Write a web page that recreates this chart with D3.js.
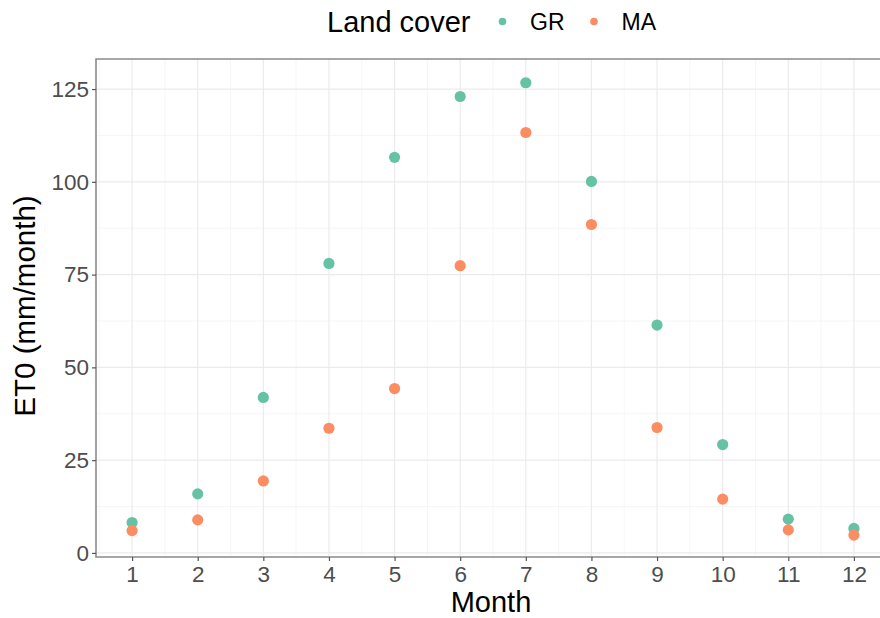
<!DOCTYPE html>
<html>
<head>
<meta charset="utf-8">
<script src="https://cdn.jsdelivr.net/npm/d3@7"></script>
<style>
  html, body { margin: 0; padding: 0; background: #fff; overflow: hidden; }
  svg { display: block; font-family: "Liberation Sans", Arial, sans-serif; }
</style>
</head>
<body>
<svg id="chart" width="880" height="618"></svg>
<script>
// ---- data ----
const months = [1, 2, 3, 4, 5, 6, 7, 8, 9, 10, 11, 12];
const grValues = [8.2, 15.9, 41.9, 78.0, 106.6, 123.0, 126.7, 100.1, 61.4, 29.2, 9.1, 6.6];
const maValues = [6.0, 8.9, 19.4, 33.6, 44.3, 77.4, 113.3, 88.5, 33.8, 14.5, 6.2, 4.8];
const seriesNames = ["GR", "MA"];
const seriesColors = ["#66C2A5", "#FC8D62"];
const xTicks = [1, 2, 3, 4, 5, 6, 7, 8, 9, 10, 11, 12];
const yTicks = [0, 25, 50, 75, 100, 125];
const xMinor = [0.5, 1.5, 2.5, 3.5, 4.5, 5.5, 6.5, 7.5, 8.5, 9.5, 10.5, 11.5, 12.5];
const yMinor = [12.5, 37.5, 62.5, 87.5, 112.5];
const legendTitle = "Land cover";
const xTitle = "Month";
const yTitle = "ET0 (mm/month)";

// ---- layout ----
const svg = d3.select("#chart");
const panel = { left: 96, right: 890, top: 59, bottom: 557 };

const x = d3.scaleLinear().domain([0.45, 12.55]).range([panel.left, panel.right]);
const y = d3.scaleLinear().domain([-1.1, 133.1]).range([panel.bottom, panel.top]);
const color = d3.scaleOrdinal().domain(seriesNames).range(seriesColors);

const g = svg.append("g");

// minor grid
g.append("g").selectAll("line").data(xMinor.filter(d => x(d) < 880)).join("line")
  .attr("x1", d => x(d)).attr("x2", d => x(d))
  .attr("y1", panel.top).attr("y2", panel.bottom)
  .attr("stroke", "#f4f4f4").attr("stroke-width", 0.8);
g.append("g").selectAll("line").data(yMinor).join("line")
  .attr("y1", d => y(d)).attr("y2", d => y(d))
  .attr("x1", panel.left).attr("x2", 880)
  .attr("stroke", "#f4f4f4").attr("stroke-width", 0.8);
// major grid
g.append("g").selectAll("line").data(xTicks).join("line")
  .attr("x1", d => x(d)).attr("x2", d => x(d))
  .attr("y1", panel.top).attr("y2", panel.bottom)
  .attr("stroke", "#ebebeb").attr("stroke-width", 1.2);
g.append("g").selectAll("line").data(yTicks).join("line")
  .attr("y1", d => y(d)).attr("y2", d => y(d))
  .attr("x1", panel.left).attr("x2", 880)
  .attr("stroke", "#ebebeb").attr("stroke-width", 1.2);

// points
const data = [];
months.forEach((m, i) => {
  data.push({ month: m, value: grValues[i], s: "GR" });
  data.push({ month: m, value: maValues[i], s: "MA" });
});
g.append("g").selectAll("circle").data(data).join("circle")
  .attr("cx", d => x(d.month)).attr("cy", d => y(d.value))
  .attr("r", 5.6)
  .attr("fill", d => color(d.s));

// panel border: top, left, bottom (right side lies beyond the picture)
g.append("path")
  .attr("d", `M880,${panel.top}H${panel.left}V${panel.bottom}H880`)
  .attr("fill", "none").attr("stroke", "#8a8a8a").attr("stroke-width", 1.6);

// axes
const xAxis = d3.axisBottom(x).tickValues(xTicks).tickSize(4).tickPadding(5).tickFormat(d3.format("d"));
const yAxis = d3.axisLeft(y).tickValues(yTicks).tickSize(4).tickPadding(3).tickFormat(d3.format("d"));

const gx = svg.append("g").attr("transform", `translate(0,${panel.bottom})`).call(xAxis);
const gy = svg.append("g").attr("transform", `translate(${panel.left},0)`).call(yAxis);
[gx, gy].forEach(a => {
  a.select(".domain").remove();
  a.selectAll(".tick line").attr("stroke", "#555").attr("stroke-width", 1.2);
  a.selectAll(".tick text").attr("fill", "#4d4d4d")
    .style("font-size", "22.5px").style("font-family", "'Liberation Sans', Arial, sans-serif");
});

// axis titles
svg.append("text")
  .attr("x", (panel.left + panel.right) / 2 - 2).attr("y", 612)
  .attr("text-anchor", "middle")
  .style("font-size", "29px").attr("fill", "#000")
  .text(xTitle);
svg.append("text")
  .attr("transform", `translate(35,${(panel.top + panel.bottom) / 2 - 2}) rotate(-90)`)
  .attr("text-anchor", "middle")
  .style("font-size", "29.5px").attr("fill", "#000")
  .text(yTitle);

// legend
const lg = svg.append("g");
lg.append("text").attr("x", 327).attr("y", 32)
  .style("font-size", "29px").attr("fill", "#000").text(legendTitle);
const legendX = [502.5, 594];
seriesNames.forEach((s, i) => {
  lg.append("circle").attr("cx", legendX[i]).attr("cy", 21.5).attr("r", 3.8).attr("fill", color(s));
  lg.append("text").attr("x", legendX[i] + 27.5).attr("y", 29.5)
    .style("font-size", "23px").attr("fill", "#000").text(s);
});
</script>
</body>
</html>
